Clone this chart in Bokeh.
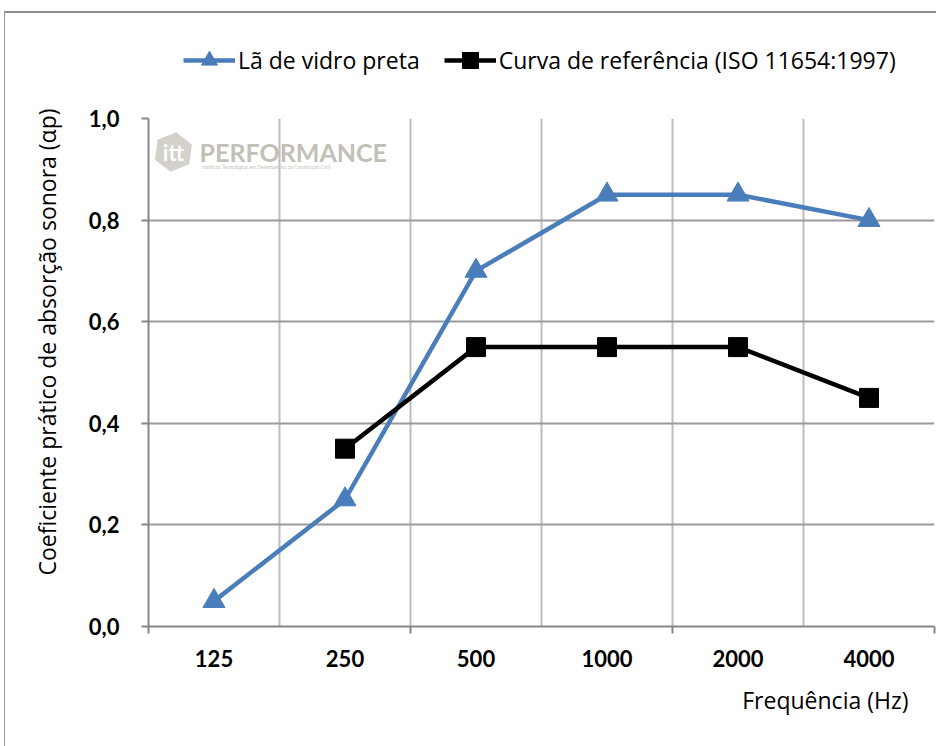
from bokeh.plotting import figure
from bokeh.layouts import column
from bokeh.models import (Range1d, FixedTicker, Legend, LegendItem, Title, Label,
                          ColumnDataSource)
from bokeh.embed import file_html
from bokeh.resources import INLINE

# ---- data ----
categories = ["125", "250", "500", "1000", "2000", "4000"]
la_vidro_freqs = ["125", "250", "500", "1000", "2000", "4000"]
la_vidro_values = [0.05, 0.25, 0.70, 0.85, 0.85, 0.80]
ref_freqs = ["250", "500", "1000", "2000", "4000"]
ref_values = [0.35, 0.55, 0.55, 0.55, 0.45]
y_ticks = [0.0, 0.2, 0.4, 0.6, 0.8, 1.0]
y_tick_labels = ["0,0", "0,2", "0,4", "0,6", "0,8", "1,0"]
series_names = ["Lã de vidro preta", "Curva de referência (ISO 11654:1997)"]

FONT = "Open Sans"
TICKFONT = "Lato"
BLUE = "#4a7ebb"
BLACK = "#000000"

def pos(cat):
    return categories.index(cat) + 0.5

src_a = ColumnDataSource(dict(x=[pos(c) for c in la_vidro_freqs], y=la_vidro_values))
src_b = ColumnDataSource(dict(x=[pos(c) for c in ref_freqs], y=ref_values))

# ---------- legend strip (its ranges keep the series out of view) ----------
pl = figure(width=931, height=93, output_backend="svg", toolbar_location=None,
            x_axis_type=None, y_axis_type=None,
            x_range=Range1d(100, 101), y_range=Range1d(100, 101), min_border=0)
pl.outline_line_color = None
pl.grid.visible = False
g1 = pl.line("x", "y", source=src_a, line_color=BLUE, line_width=4.5)
g2 = pl.scatter("x", "y", source=src_a, marker="triangle", size=17,
                fill_color=BLUE, line_color=BLUE)
g3 = pl.line("x", "y", source=src_b, line_color=BLACK, line_width=4.5)
g4 = pl.scatter("x", "y", source=src_b, marker="square", size=16,
                fill_color=BLACK, line_color=BLACK)
legend = Legend(items=[LegendItem(label=series_names[0], renderers=[g1, g2]),
                       LegendItem(label=series_names[1], renderers=[g3, g4])],
                orientation="horizontal", location=(35, 26),
                border_line_color=None, background_fill_alpha=0,
                label_text_font=FONT, label_text_font_size="23px",
                label_text_color=BLACK,
                label_standoff=3, glyph_width=52, glyph_height=40, spacing=24,
                margin=0, padding=0)
pl.add_layout(legend, "center")

# ---------- main chart ----------
p = figure(width=931, height=640, output_backend="svg", toolbar_location=None,
           x_range=Range1d(0, len(categories)), y_range=Range1d(0, 1.0),
           min_border_left=143, min_border_right=2, min_border_top=12,
           min_border_bottom=120)
p.outline_line_color = None

cat_pos = [i + 0.5 for i in range(len(categories))]
p.xaxis.ticker = FixedTicker(ticks=cat_pos, minor_ticks=[0, 2, 4, 6])
p.xaxis.major_label_overrides = {c: lab for c, lab in zip(cat_pos, categories)}
p.xaxis.major_tick_line_color = None
p.xaxis.minor_tick_in = 0
p.xaxis.minor_tick_out = 7
p.xaxis.minor_tick_line_color = "#868686"
p.xaxis.minor_tick_line_width = 2
p.xaxis.axis_line_color = "#868686"
p.xaxis.axis_line_width = 2
p.xaxis.major_label_text_font = TICKFONT
p.xaxis.major_label_text_font_style = "bold"
p.xaxis.major_label_text_font_size = "22px"
p.xaxis.major_label_text_color = BLACK
p.xaxis.major_label_standoff = 16

p.xgrid.ticker = FixedTicker(ticks=list(range(len(categories) + 1)))
p.xgrid.grid_line_color = "#bdbdbd"
p.xgrid.grid_line_width = 2

p.yaxis.ticker = FixedTicker(ticks=y_ticks)
p.yaxis.major_label_overrides = {t: l for t, l in zip(y_ticks, y_tick_labels)}
p.yaxis.major_tick_in = 0
p.yaxis.major_tick_out = 7
p.yaxis.major_tick_line_color = "#868686"
p.yaxis.major_tick_line_width = 2
p.yaxis.minor_tick_line_color = None
p.yaxis.axis_line_color = "#868686"
p.yaxis.axis_line_width = 2
p.yaxis.major_label_text_font = TICKFONT
p.yaxis.major_label_text_font_style = "bold"
p.yaxis.major_label_text_font_size = "22px"
p.yaxis.major_label_text_color = BLACK
p.yaxis.major_label_standoff = 22

p.ygrid.grid_line_color = "#9a9a9a"
p.ygrid.grid_line_width = 2

# y axis title as a left-panel title (so it can sit a little above centre)
p.add_layout(Title(text="Coeficiente prático de absorção sonora (αp)", align="right",
                   text_font=FONT, text_font_style="normal", text_font_size="23px",
                   text_color=BLACK, offset=-10, standoff=45), "left")

# watermark
p.scatter(x=[0.19], y=[0.934], marker="hex", size=40, angle=0.39,
          fill_color="#d4d1ca", line_color=None)
p.add_layout(Label(x=0.19, y=0.934, text="itt", text_font=TICKFONT,
                   text_font_style="bold", text_font_size="22px",
                   text_color="#ffffff", text_align="center",
                   text_baseline="middle"))
p.add_layout(Label(x=0.39, y=0.934, text="PERFORMANCE", text_font=TICKFONT,
                   text_font_style="bold", text_font_size="25px",
                   text_color="#c2bfb7", text_baseline="middle"))
p.add_layout(Label(x=0.41, y=0.905, text="Instituto Tecnológico em Desempenho da Construção Civil",
                   text_font=TICKFONT, text_font_size="5px", text_color="#c6c3bb",
                   text_baseline="middle"))

# series
p.line("x", "y", source=src_a, line_color=BLUE, line_width=4.5)
p.scatter("x", "y", source=src_a, marker="triangle", size=22,
          fill_color=BLUE, line_color=BLUE)
p.line("x", "y", source=src_b, line_color=BLACK, line_width=4.5)
p.scatter("x", "y", source=src_b, marker="square", size=19,
          fill_color=BLACK, line_color=BLACK)

p.add_layout(Title(text="Frequência (Hz)", align="right", text_font=FONT,
                   text_font_style="normal", text_font_size="23px",
                   text_color=BLACK, offset=26, standoff=24), "below")

layout = column(pl, p, spacing=0)
layout.styles = {"border-top": "2px solid #8c8c8c", "border-left": "1px solid #9a9a9a",
                 "margin-left": "4px", "margin-top": "11px"}

open("out.html", "w").write(file_html(layout, INLINE))
